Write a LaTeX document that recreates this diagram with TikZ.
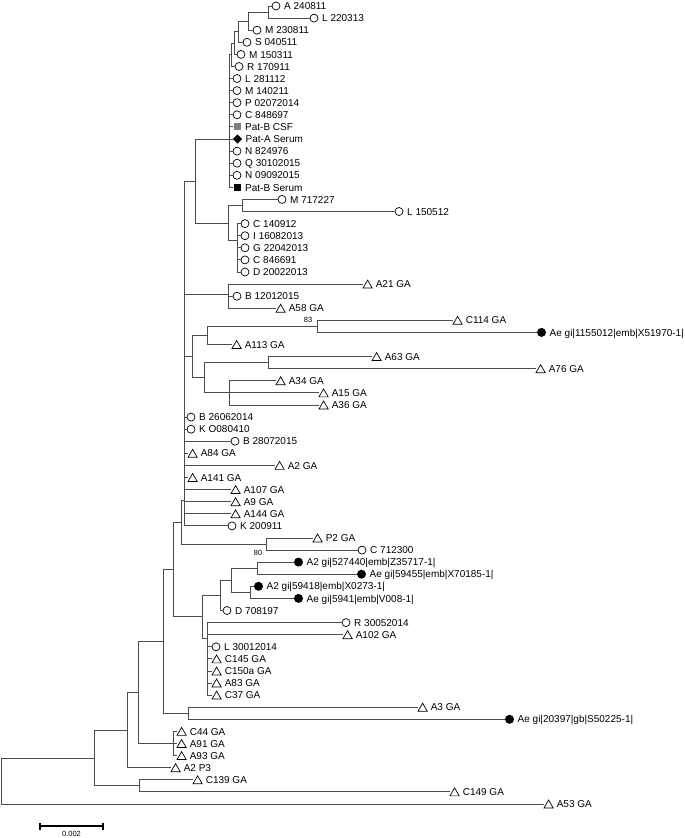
\documentclass[tikz,border=0pt]{standalone}
\usepackage{fontspec}
\setmainfont{Liberation Sans}
\usetikzlibrary{shapes.geometric}
\newcommand{\lf}[6]{%
  \coordinate (#1) at (#2,#3);
  \node[#4] (#1m) at ([xshift=#5pt]#1) {};
  \node[lab] (#1t) at ([xshift={#5pt+8pt},yshift=-3.6pt]#1) {#6};
}
\begin{document}
\begin{tikzpicture}[x=1pt,y=-1pt,
  br/.style={draw=black!70, line width=0.9pt},
  circ/.style={circle, draw=black, line width=0.7pt, inner sep=0pt, minimum size=8pt},
  fcirc/.style={circle, fill=black, inner sep=0pt, minimum size=9pt},
  tri/.style={regular polygon, regular polygon sides=3, draw=black, line width=0.7pt, inner sep=0pt, minimum size=10.6pt, yshift=-1.3pt},
  gsq/.style={rectangle, fill=black!50, inner sep=0pt, minimum size=7pt},
  bsq/.style={rectangle, fill=black, inner sep=0pt, minimum size=7pt},
  dia/.style={diamond, fill=black, inner sep=0pt, minimum size=9.5pt},
  lab/.style={anchor=base west, inner sep=0pt, font=\fontsize{10}{12}\selectfont},
  boot/.style={inner sep=0pt, font=\fontsize{7.5}{9}\selectfont},
  sbar/.style={draw=black, line width=1.5pt}
]
\fill[white] (0,0) rectangle (685,838);
\useasboundingbox (0,0) rectangle (685,838);

% ---------- leaves ----------
\lf{L1}{272}{6.0}{circ}{4}{A 240811}
\lf{L2}{310}{18.1}{circ}{4}{L 220313}
\lf{L3}{253}{30.2}{circ}{4}{M 230811}
\lf{L4}{243}{42.3}{circ}{4}{S 040511}
\lf{L5}{237}{54.4}{circ}{4}{M 150311}
\lf{L6}{235}{66.5}{circ}{4}{R 170911}
\lf{L7}{233}{78.5}{circ}{4}{L 281112}
\lf{L8}{233}{90.6}{circ}{4}{M 140211}
\lf{L9}{233}{102.7}{circ}{4}{P 02072014}
\lf{L10}{233}{114.8}{circ}{4}{C 848697}
\lf{L11}{233}{126.9}{gsq}{4}{Pat-B CSF}
\lf{L12}{233}{139.0}{dia}{4.5}{Pat-A Serum}
\lf{L13}{233}{151.1}{circ}{4}{N 824976}
\lf{L14}{233}{163.2}{circ}{4}{Q 30102015}
\lf{L15}{233}{175.3}{circ}{4}{N 09092015}
\lf{L16}{233}{187.4}{bsq}{4}{Pat-B Serum}
\lf{L17}{278}{199.4}{circ}{4}{M 717227}
\lf{L18}{395}{211.5}{circ}{4}{L 150512}
\lf{L19}{241}{223.6}{circ}{4}{C 140912}
\lf{L20}{241}{235.7}{circ}{4}{I 16082013}
\lf{L21}{241}{247.8}{circ}{4}{G 22042013}
\lf{L22}{241}{259.9}{circ}{4}{C 846691}
\lf{L23}{241}{272.0}{circ}{4}{D 20022013}
\lf{L24}{363}{284.1}{tri}{4.6}{A21 GA}
\lf{L25}{233}{296.2}{circ}{4}{B 12012015}
\lf{L26}{276}{308.3}{tri}{4.6}{A58 GA}
\lf{L27}{453}{320.3}{tri}{4.6}{C114 GA}
\lf{L28}{537}{332.4}{fcirc}{4.5}{Ae gi|1155012|emb|X51970-1|}
\lf{L29}{232}{344.5}{tri}{4.6}{A113 GA}
\lf{L30}{372}{356.6}{tri}{4.6}{A63 GA}
\lf{L31}{536}{368.7}{tri}{4.6}{A76 GA}
\lf{L32}{276}{380.8}{tri}{4.6}{A34 GA}
\lf{L33}{319}{392.9}{tri}{4.6}{A15 GA}
\lf{L34}{319}{405.0}{tri}{4.6}{A36 GA}
\lf{L35}{187}{417.1}{circ}{4}{B 26062014}
\lf{L36}{187}{429.2}{circ}{4}{K O080410}
\lf{L37}{231}{441.2}{circ}{4}{B 28072015}
\lf{L38}{188}{453.3}{tri}{4.6}{A84 GA}
\lf{L39}{275}{465.4}{tri}{4.6}{A2 GA}
\lf{L40}{188}{477.5}{tri}{4.6}{A141 GA}
\lf{L41}{231}{489.6}{tri}{4.6}{A107 GA}
\lf{L42}{231}{501.7}{tri}{4.6}{A9 GA}
\lf{L43}{231}{513.8}{tri}{4.6}{A144 GA}
\lf{L44}{228}{525.9}{circ}{4}{K 200911}
\lf{L45}{313}{538.0}{tri}{4.6}{P2 GA}
\lf{L46}{358}{550.1}{circ}{4}{C 712300}
\lf{L47}{294}{562.1}{fcirc}{4.5}{A2 gi|527440|emb|Z35717-1|}
\lf{L48}{357}{574.2}{fcirc}{4.5}{Ae gi|59455|emb|X70185-1|}
\lf{L49}{254}{586.3}{fcirc}{4.5}{A2 gi|59418|emb|X0273-1|}
\lf{L50}{294}{598.4}{fcirc}{4.5}{Ae gi|5941|emb|V008-1|}
\lf{L51}{223}{610.5}{circ}{4}{D 708197}
\lf{L52}{342}{622.6}{circ}{4}{R 30052014}
\lf{L53}{343}{634.7}{tri}{4.6}{A102 GA}
\lf{L54}{212}{646.8}{circ}{4}{L 30012014}
\lf{L55}{212}{658.9}{tri}{4.6}{C145 GA}
\lf{L56}{212}{671.0}{tri}{4.6}{C150a GA}
\lf{L57}{212}{683.0}{tri}{4.6}{A83 GA}
\lf{L58}{212}{695.1}{tri}{4.6}{C37 GA}
\lf{L59}{418}{707.2}{tri}{4.6}{A3 GA}
\lf{L60}{505}{719.3}{fcirc}{4.5}{Ae gi|20397|gb|S50225-1|}
\lf{L61}{177}{731.4}{tri}{4.6}{C44 GA}
\lf{L62}{177}{743.5}{tri}{4.6}{A91 GA}
\lf{L63}{177}{755.6}{tri}{4.6}{A93 GA}
\lf{L64}{171}{767.7}{tri}{4.6}{A2 P3}
\lf{L65}{193}{779.8}{tri}{4.6}{C139 GA}
\lf{L66}{450}{791.9}{tri}{4.6}{C149 GA}
\lf{L67}{544}{804.0}{tri}{4.6}{A53 GA}

% ---------- internal nodes ----------
\coordinate (n1) at (268,12.05);
\coordinate (n2) at (248,21.1);
\coordinate (n3) at (238,31.7);
\coordinate (n4) at (234,43.0);
\coordinate (n5) at (231,54.8);
\coordinate (p1) at (229,139);
\coordinate (n6) at (242,205.5);
\coordinate (p2) at (237,240.5);
\coordinate (q) at (228,223);
\coordinate (r1) at (195,181);
\coordinate (s1) at (228,294);
\coordinate (c1) at (317,326.4);
\coordinate (t2) at (207,335.5);
\coordinate (t4) at (268,362.6);
\coordinate (t5) at (229,392.9);
\coordinate (t3) at (204,377.8);
\coordinate (t1) at (192,356.6);
\coordinate (b0) at (184,500);
\coordinate (pn) at (266,544);
\coordinate (z) at (181,522);
\coordinate (a1) at (257,568.2);
\coordinate (a3) at (250,592.4);
\coordinate (a2) at (231,580.3);
\coordinate (a4) at (220,595.4);
\coordinate (xx) at (207,638);
\coordinate (v) at (202,616.7);
\coordinate (u) at (173,569.4);
\coordinate (a5) at (188,713.3);
\coordinate (t0) at (163,641.3);
\coordinate (g1) at (173,743.5);
\coordinate (g2) at (138,692.4);
\coordinate (g3) at (127,730);
\coordinate (g4) at (139,785.9);
\coordinate (g5) at (94,758);
\coordinate (root) at (1,781);

% ---------- branches ----------
\foreach \p/\c in {n1/L1,n1/L2,n2/n1,n2/L3,n3/n2,n3/L4,n4/n3,n4/L5,n5/n4,n5/L6,
  p1/n5,p1/L7,p1/L8,p1/L9,p1/L10,p1/L11,p1/L12,p1/L13,p1/L14,p1/L15,p1/L16,
  n6/L17,n6/L18,p2/L19,p2/L20,p2/L21,p2/L22,p2/L23,q/n6,q/p2,r1/p1,r1/q,
  s1/L24,s1/L25,s1/L26,c1/L27,c1/L28,t2/c1,t2/L29,t4/L30,t4/L31,
  t5/L32,t5/L33,t5/L34,t3/t4,t3/t5,t1/t2,t1/t3,
  b0/r1,b0/s1,b0/t1,b0/L35,b0/L36,b0/L37,b0/L38,b0/L39,b0/L40,b0/L41,b0/L42,b0/L43,b0/L44,
  pn/L45,pn/L46,z/b0,z/pn,
  a1/L47,a1/L48,a3/L49,a3/L50,a2/a1,a2/a3,a4/a2,a4/L51,
  xx/L52,xx/L53,xx/L54,xx/L55,xx/L56,xx/L57,xx/L58,v/a4,v/xx,u/z,u/v,
  a5/L59,a5/L60,t0/u,t0/a5,g1/L61,g1/L62,g1/L63,g2/t0,g2/g1,g3/g2,g3/L64,
  g4/L65,g4/L66,g5/g3,g5/g4,root/g5,root/L67}
  \draw[br] (\p) |- (\c);

% ---------- support values ----------
\node[boot] (bs83) at (308,320) {83};
\node[boot] (bs80) at (258,553) {80};

% ---------- scale bar ----------
\coordinate (sb1) at (40,826);
\coordinate (sb2) at (103,826);
\draw[sbar] (sb1) -- (sb2);
\draw[sbar,line width=1.2pt] ([yshift=3.5pt]sb1) -- ([yshift=-3.5pt]sb1);
\draw[sbar,line width=1.2pt] ([yshift=3.5pt]sb2) -- ([yshift=-3.5pt]sb2);
\node[boot] (sbl) at (71.5,834) {0.002};
\end{tikzpicture}
\end{document}
